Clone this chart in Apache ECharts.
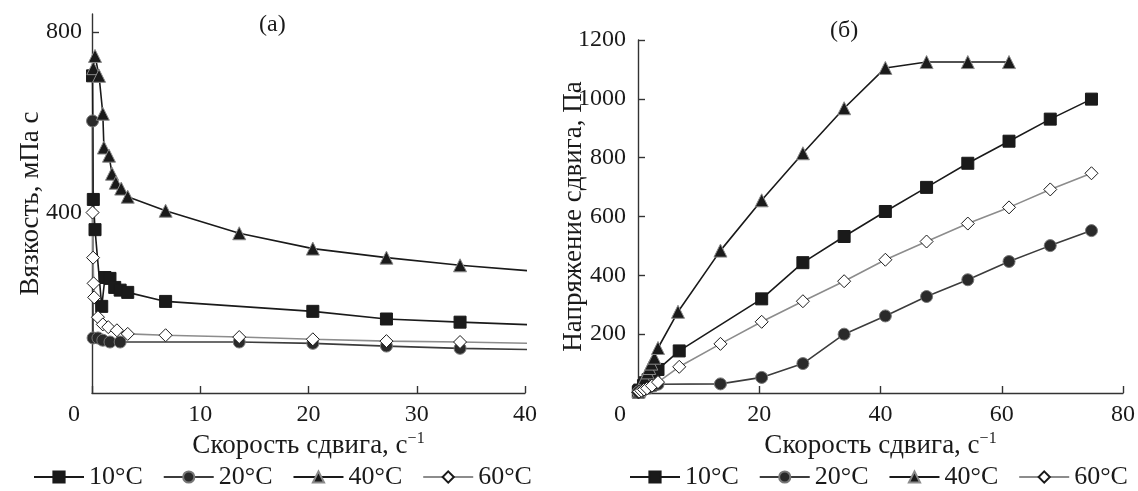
<!DOCTYPE html>
<html>
<head>
<meta charset="utf-8">
<script src="https://cdn.jsdelivr.net/npm/echarts@6/dist/echarts.min.js"></script>
<style>
  html, body { margin: 0; padding: 0; background: #fff; }
  #chart { width: 1138px; height: 491px; }
</style>
</head>
<body>
<div id="chart"></div>
<script>
// названия серий
var seriesNames = ['10°C', '20°C', '40°C', '60°C'];

// (а) вязкость, мПа с  —  [скорость сдвига, значение]
var visc10 = [[0.05, 703], [0.12, 429], [0.28, 362], [0.9, 192], [1.2, 256], [1.66, 254], [2.1, 234], [2.6, 228], [3.3, 223], [6.8, 203], [20.4, 181], [27.2, 164], [34, 157], [40.8, 151]];
var visc20 = [[0.05, 603], [0.1, 122], [0.55, 122], [1.0, 117], [1.66, 113], [2.6, 113], [13.6, 113], [20.4, 110], [27.2, 104], [34, 99], [40.8, 96]];
var visc40 = [[0.12, 720], [0.28, 747], [0.65, 703], [1.0, 619], [1.1, 544], [1.57, 526], [1.85, 486], [2.2, 466], [2.7, 453], [3.3, 435], [6.8, 404], [13.6, 354], [20.4, 320], [27.2, 300], [34, 283], [40.8, 270]];
var visc60 = [[0.05, 400], [0.1, 300], [0.15, 243], [0.2, 212], [0.55, 168], [1.0, 152], [1.5, 146], [2.3, 139], [3.3, 131], [6.8, 128], [13.6, 124], [20.4, 119], [27.2, 115], [34, 113], [40.8, 110]];

// (б) напряжение сдвига, Па
var stress10 = [[0.05, 3], [0.12, 6], [0.28, 10], [0.9, 25], [1.2, 35], [1.66, 45], [2.1, 55], [2.6, 65], [3.3, 80], [6.8, 143], [20.4, 320], [27.2, 443], [34, 532], [40.8, 617], [47.6, 699], [54.4, 781], [61.2, 856], [68, 931], [74.8, 999]];
var stress20 = [[0.05, 2], [0.1, 4], [0.55, 8], [1.0, 12], [1.66, 16], [2.6, 24], [3.3, 30], [13.6, 31], [20.4, 53], [27.2, 100], [34, 200], [40.8, 262], [47.6, 328], [54.4, 385], [61.2, 447], [68, 501], [74.8, 552]];
var stress40 = [[0.12, 5], [0.28, 12], [0.65, 25], [1.0, 40], [1.1, 50], [1.57, 70], [1.85, 85], [2.2, 100], [2.7, 120], [3.3, 153], [6.6, 276], [13.6, 484], [20.4, 655], [27.2, 815], [34, 968], [40.8, 1105], [47.6, 1125], [54.4, 1125], [61.2, 1125]];
var stress60 = [[0.05, 2], [0.1, 3], [0.15, 4], [0.2, 5], [0.55, 8], [1.0, 12], [1.5, 16], [2.3, 25], [3.3, 37], [6.8, 89], [13.6, 167], [20.4, 242], [27.2, 312], [34, 380], [40.8, 453], [47.6, 515], [54.4, 576], [61.2, 631], [68, 692], [74.8, 747]];

// подписи осей
var viscTicks = [400, 800];
var stressTicks = [200, 400, 600, 800, 1000, 1200];

var FONT = 'Liberation Serif, Times New Roman, serif';
var INK = '#1a1a1a';

var myChart = echarts.init(document.getElementById('chart'));

// стиль маркеров для каждой температуры
var look = {
    '10°C': { symbol: 'rect', size: 12, line: INK, fill: INK, border: INK },
    '20°C': { symbol: 'circle', size: 12, line: '#3c3c3c', fill: '#2a2a2a', border: '#777' },
    '40°C': { symbol: 'triangle', size: 13, line: INK, fill: INK, border: '#8a8a8a' },
    '60°C': { symbol: 'diamond', size: 13, line: '#8c8c8c', fill: '#fff', border: INK }
};

function makeSeries(name, data, idx) {
    var s = look[name];
    return {
        name: name,
        type: 'line',
        xAxisIndex: idx,
        yAxisIndex: idx,
        data: data,
        symbol: s.symbol,
        symbolSize: s.size,
        showAllSymbol: true,
        clip: true,
        lineStyle: { color: s.line, width: 1.6 },
        itemStyle: { color: s.fill, borderColor: s.border, borderWidth: 1 },
        emphasis: { disabled: true },
        animation: false
    };
}

function xAxisFor(idx, max, interval) {
    return {
        type: 'value',
        gridIndex: idx,
        min: 0,
        max: max,
        interval: interval,
        name: '{a|Скорость сдвига, с}{s|−1}',
        nameLocation: 'middle',
        nameGap: 38,
        nameMoveOverlap: false,
        nameTextStyle: {
            rich: {
                a: { fontFamily: FONT, fontSize: 27, color: INK },
                s: { fontFamily: FONT, fontSize: 16, color: INK, verticalAlign: 'top', padding: [0, 0, 14, 0] }
            }
        },
        axisLine: { lineStyle: { color: '#333', width: 1.4 } },
        axisTick: { inside: true, length: 7, lineStyle: { color: '#333', width: 1.4 } },
        splitLine: { show: false },
        axisLabel: {
            fontFamily: FONT, fontSize: 24, color: INK, margin: 10,
            formatter: function (v) { return v === 0 ? '{z|0}' : String(v); },
            rich: { z: { fontFamily: FONT, fontSize: 24, color: INK, padding: [0, 36, 0, 0] } }
        }
    };
}

function yAxisFor(idx, max, ticks, name, gap, margin) {
    return {
        type: 'value',
        gridIndex: idx,
        min: 0,
        max: max,
        name: name,
        nameLocation: 'middle',
        nameGap: gap,
        nameMoveOverlap: false,
        nameTextStyle: { fontFamily: FONT, fontSize: 27, color: INK },
        axisLine: { show: true, lineStyle: { color: '#333', width: 1.4 } },
        axisTick: { show: true, inside: true, length: 7, customValues: ticks, lineStyle: { color: '#333', width: 1.4 } },
        splitLine: { show: false },
        axisLabel: {
            fontFamily: FONT, fontSize: 24, color: INK, margin: margin, customValues: ticks,
            formatter: function (v) { return String(v); }
        }
    };
}

function legendFor(left) {
    return {
        left: left,
        top: 459,
        data: seriesNames,
        itemWidth: 50,
        itemHeight: 14,
        itemGap: 20,
        selectedMode: false,
        textStyle: { fontFamily: FONT, fontSize: 26, color: INK }
    };
}

var option = {
    backgroundColor: '#fff',
    animation: false,
    title: [
        { text: '(а)', left: 254, top: 8, textStyle: { fontFamily: FONT, fontSize: 24, fontWeight: 'normal', color: INK } },
        { text: '(б)', left: 825, top: 14, textStyle: { fontFamily: FONT, fontSize: 24, fontWeight: 'normal', color: INK } }
    ],
    legend: [legendFor(28), legendFor(624)],
    grid: [
        { left: 92, top: 14, width: 433, height: 379, outerBoundsMode: 'none' },
        { left: 638, top: 40, width: 485, height: 353, outerBoundsMode: 'none' }
    ],
    xAxis: [xAxisFor(0, 40, 10), xAxisFor(1, 80, 20)],
    yAxis: [
        yAxisFor(0, 840, viscTicks, 'Вязкость, мПа с', 48, 10),
        yAxisFor(1, 1200, stressTicks, 'Напряжение сдвига, Па', 51, 12)
    ],
    series: [
        makeSeries('10°C', visc10, 0),
        makeSeries('20°C', visc20, 0),
        makeSeries('40°C', visc40, 0),
        makeSeries('60°C', visc60, 0),
        makeSeries('10°C', stress10, 1),
        makeSeries('20°C', stress20, 1),
        makeSeries('40°C', stress40, 1),
        makeSeries('60°C', stress60, 1)
    ]
};

myChart.setOption(option);
</script>
</body>
</html>
